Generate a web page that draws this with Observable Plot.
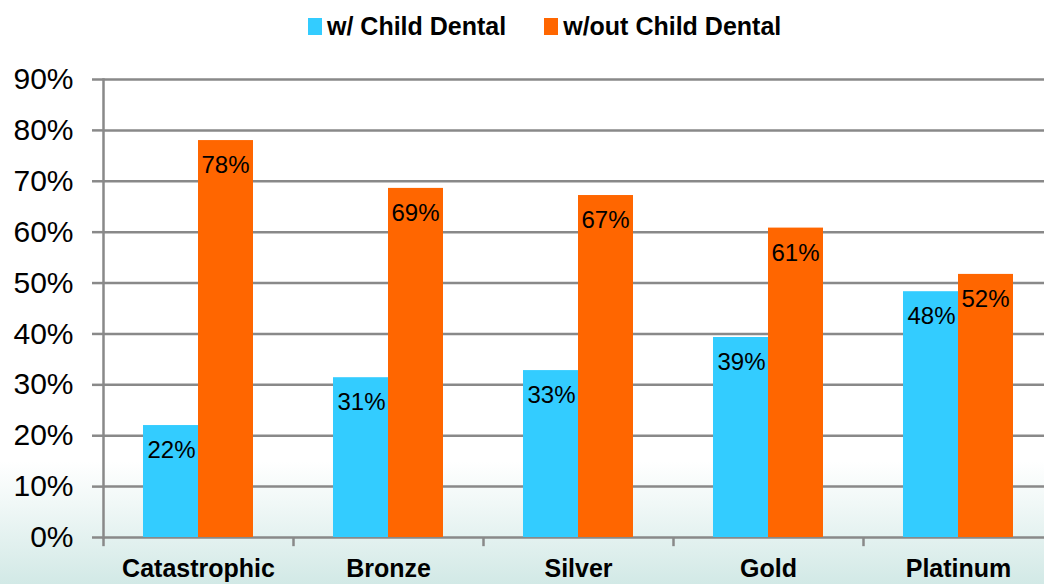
<!DOCTYPE html>
<html>
<head>
<meta charset="utf-8">
<script src="https://cdn.jsdelivr.net/npm/d3@7"></script>
<script src="https://cdn.jsdelivr.net/npm/@observablehq/plot@0.6"></script>
<style>
  html, body { margin: 0; padding: 0; }
  body {
    width: 1044px; height: 584px; overflow: hidden; position: relative;
    font-family: "Liberation Sans", Arial, sans-serif;
    background: linear-gradient(to bottom, #ffffff 0%, #ffffff 79%, #f1f8f7 86%, #d2e9e6 100%);
  }
  #legend { position: absolute; left: 308px; top: 10px; height: 32px; display: flex; align-items: center; font-size: 25px; font-weight: bold; color: #000; }
  #legend .item { display: flex; align-items: center; margin-right: 38px; }
  #legend .sw { width: 14px; height: 17px; margin-right: 5px; }
  #chart { position: absolute; left: 0; top: 50px; }
</style>
</head>
<body>
<div id="legend"></div>
<div id="chart"></div>
<script>
const categories = ["Catastrophic", "Bronze", "Silver", "Gold", "Platinum"];
const seriesNames = ["w/ Child Dental", "w/out Child Dental"];
const seriesColors = ["#33CCFF", "#FF6600"];
const withChildDental = [22, 31.4, 32.8, 39.3, 48.3];
const withoutChildDental = [78, 68.6, 67.2, 60.8, 51.7];
const yTicks = [0, 10, 20, 30, 40, 50, 60, 70, 80, 90];

const withData = categories.map((c, i) => ({category: c, value: withChildDental[i]}));
const withoutData = categories.map((c, i) => ({category: c, value: withoutChildDental[i]}));

// legend
const legend = document.getElementById("legend");
seriesNames.forEach((n, i) => {
  const it = document.createElement("div");
  it.className = "item";
  it.innerHTML = `<span class="sw" style="background:${seriesColors[i]}"></span><span>${n}</span>`;
  legend.appendChild(it);
});

const grid = "#898989";
const plot = Plot.plot({
  width: 1053,
  height: 534,
  marginLeft: 103,
  marginRight: 0,
  marginTop: 29,
  marginBottom: 47,
  style: {background: "transparent", maxWidth: "none", overflow: "visible", fontFamily: "'Liberation Sans', Arial, sans-serif"},
  x: {domain: categories, paddingInner: 0, paddingOuter: 0, label: null},
  y: {domain: [0, 90], label: null},
  marks: [
    Plot.ruleY(yTicks, {stroke: grid, strokeWidth: 2.5}),
    Plot.barY(withData, {x: "category", y: "value", fill: seriesColors[0], insetLeft: 40, insetRight: 95}),
    Plot.barY(withoutData, {x: "category", y: "value", fill: seriesColors[1], insetLeft: 95, insetRight: 40}),
    Plot.text(withData, {x: "category", y: "value", text: d => Math.round(d.value) + "%", dx: -27, dy: 25, fontSize: 24, fill: "#000", lineAnchor: "middle"}),
    Plot.text(withoutData, {x: "category", y: "value", text: d => Math.round(d.value) + "%", dx: 27, dy: 25, fontSize: 24, fill: "#000", lineAnchor: "middle"}),
    Plot.frame({anchor: "left", stroke: grid, strokeWidth: 2.5}),
    Plot.ruleX(categories, {x: d => d, dx: -95, y1: 0, y2: -1.8, stroke: grid, strokeWidth: 2.5}),
    Plot.axisY({ticks: yTicks, tickFormat: d => d + "%", tickSize: 11, tickPadding: 19, fontSize: 30, stroke: grid, strokeWidth: 2.5, fill: "#000", strokeOpacity: 1}),
    Plot.axisX({tickSize: 0, tickPadding: 22, fontSize: 25, fontWeight: "bold", fill: "#000"})
  ]
});
document.getElementById("chart").appendChild(plot);
</script>
</body>
</html>
